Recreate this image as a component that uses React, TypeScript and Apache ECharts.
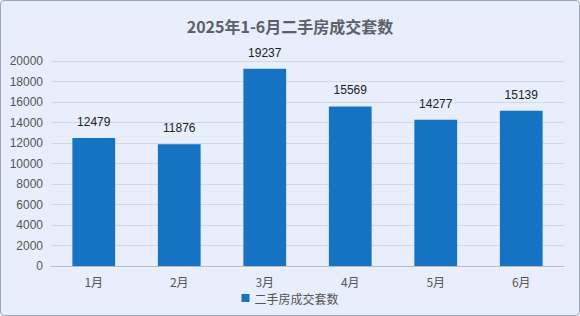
import React, { useEffect, useRef } from "react";
import * as echarts from "echarts";

const categories = ["1月", "2月", "3月", "4月", "5月", "6月"];
const values = [12479, 11876, 19237, 15569, 14277, 15139];
const seriesName = "二手房成交套数";
const titleText = "2025年1-6月二手房成交套数";

export default function App() {
  const ref = useRef<HTMLDivElement>(null);
  useEffect(() => {
    document.body.style.margin = "0";
    const chart = echarts.init(ref.current!, undefined, { renderer: "svg" });
    chart.setOption({
      animation: false,
      backgroundColor: "transparent",
      title: {
        text: titleText,
        left: "center",
        top: 12,
        textStyle: { fontSize: 16, fontWeight: "bold", color: "#5d6068", fontFamily: "Noto Sans CJK SC" },
      },
      legend: {
        bottom: 6,
        left: "center",
        itemWidth: 8,
        itemHeight: 8,
        icon: "rect",
        textStyle: { color: "#555", fontSize: 12, fontFamily: "Noto Sans CJK SC" },
        data: [seriesName],
      },
      grid: { left: 50, right: 15, top: 60, bottom: 49 },
      xAxis: {
        type: "category",
        data: categories,
        axisLine: { lineStyle: { color: "#b8bec8" } },
        axisTick: { alignWithLabel: true, lineStyle: { color: "#b8bec8" } },
        axisLabel: { color: "#555", fontSize: 12, margin: 9, fontFamily: "Noto Sans CJK SC" },
      },
      yAxis: {
        type: "value",
        min: 0,
        max: 20000,
        interval: 2000,
        axisLine: { show: false },
        axisTick: { show: false },
        axisLabel: {
          color: "#555",
          fontSize: 12,
          margin: 8,
          fontFamily: "Liberation Sans",
          formatter: (v: number) => String(v),
        },
        splitLine: { lineStyle: { color: "#d3d9e4" } },
      },
      series: [
        {
          name: seriesName,
          type: "bar",
          data: values,
          barWidth: "50%",
          itemStyle: { color: "#1672c3" },
          label: {
            show: true,
            position: "top",
            distance: 10,
            color: "#222",
            fontSize: 12,
            fontFamily: "Liberation Sans",
          },
        },
      ],
    });
    return () => chart.dispose();
  }, []);
  return (
    <div
      ref={ref}
      style={{
        width: 580,
        height: 316,
        boxSizing: "border-box",
        border: "1px solid #9ea7b6",
        borderRadius: 4,
        background: "#e8eefc",
      }}
    />
  );
}
